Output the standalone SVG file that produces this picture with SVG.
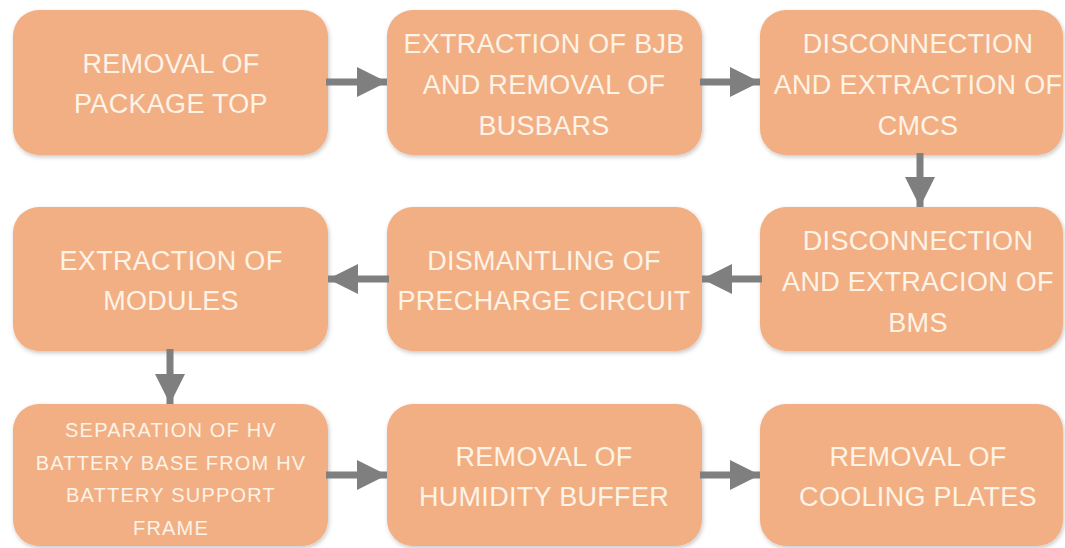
<svg xmlns="http://www.w3.org/2000/svg" width="1065" height="548" viewBox="0 0 1065 548">
  <defs>
    <filter id="soft" x="-5%" y="-5%" width="112%" height="115%">
      <feDropShadow dx="1" dy="2" stdDeviation="2" flood-color="#000" flood-opacity="0.22"/>
    </filter>
    <marker id="head" viewBox="0 0 10 10" refX="10" refY="5" markerWidth="4.3" markerHeight="4.3" markerUnits="strokeWidth" orient="auto">
      <path d="M0,0 L10,5 L0,10 Z" fill="#7f7f7f"/>
    </marker>
  </defs>
  <style>
    .box { fill: #f2af84; filter: url(#soft); }
    .lbl { font-family: "Liberation Sans", Arial, sans-serif; font-size: 27px; fill: #fdf3e6; text-anchor: middle; letter-spacing: 0.3px; }
    .small { font-size: 20px; letter-spacing: 1.2px; }
    .conn { stroke: #7f7f7f; stroke-width: 7; fill: none; marker-end: url(#head); }
  </style>
  <rect width="1065" height="548" fill="#ffffff"/>

  <!-- process steps -->
  <g id="step-removal-package-top">
    <rect class="box" x="13" y="10" width="315" height="145" rx="26"/>
    <text class="lbl" x="171" y="73">REMOVAL OF</text>
    <text class="lbl" x="171" y="113">PACKAGE TOP</text>
  </g>
  <g id="step-extraction-bjb">
    <rect class="box" x="387" y="10" width="315" height="145" rx="26"/>
    <text class="lbl" x="544" y="53">EXTRACTION OF BJB</text>
    <text class="lbl" x="544" y="94">AND REMOVAL OF</text>
    <text class="lbl" x="544" y="135">BUSBARS</text>
  </g>
  <g id="step-cmcs">
    <rect class="box" x="760" y="10" width="303" height="145" rx="26"/>
    <text class="lbl" x="918" y="53">DISCONNECTION</text>
    <text class="lbl" x="918" y="94">AND EXTRACTION OF</text>
    <text class="lbl" x="918" y="135">CMCS</text>
  </g>
  <g id="step-extraction-modules">
    <rect class="box" x="13" y="207" width="315" height="144" rx="26"/>
    <text class="lbl" x="171" y="270">EXTRACTION OF</text>
    <text class="lbl" x="171" y="310">MODULES</text>
  </g>
  <g id="step-precharge">
    <rect class="box" x="387" y="207" width="315" height="144" rx="26"/>
    <text class="lbl" x="544" y="270">DISMANTLING OF</text>
    <text class="lbl" x="544" y="310">PRECHARGE CIRCUIT</text>
  </g>
  <g id="step-bms">
    <rect class="box" x="760" y="207" width="303" height="144" rx="26"/>
    <text class="lbl" x="918" y="250">DISCONNECTION</text>
    <text class="lbl" x="918" y="291">AND EXTRACION OF</text>
    <text class="lbl" x="918" y="332">BMS</text>
  </g>
  <g id="step-separation-base">
    <rect class="box" x="13" y="404" width="315" height="142" rx="26"/>
    <text class="lbl small" x="171" y="437">SEPARATION OF HV</text>
    <text class="lbl small" x="171" y="470">BATTERY BASE FROM HV</text>
    <text class="lbl small" x="171" y="502">BATTERY SUPPORT</text>
    <text class="lbl small" x="171" y="535">FRAME</text>
  </g>
  <g id="step-humidity-buffer">
    <rect class="box" x="387" y="404" width="315" height="142" rx="26"/>
    <text class="lbl" x="544" y="466">REMOVAL OF</text>
    <text class="lbl" x="544" y="506">HUMIDITY BUFFER</text>
  </g>
  <g id="step-cooling-plates">
    <rect class="box" x="760" y="404" width="303" height="142" rx="26"/>
    <text class="lbl" x="918" y="466">REMOVAL OF</text>
    <text class="lbl" x="918" y="506">COOLING PLATES</text>
  </g>

  <!-- flow connectors -->
  <g id="connectors">
    <line class="conn" x1="326" y1="82" x2="387" y2="82"/>
    <line class="conn" x1="700" y1="82" x2="760" y2="82"/>
    <line class="conn" x1="920" y1="153" x2="920" y2="207"/>
    <line class="conn" x1="762" y1="279" x2="702" y2="279"/>
    <line class="conn" x1="389" y1="279" x2="328" y2="279"/>
    <line class="conn" x1="170" y1="349" x2="170" y2="404"/>
    <line class="conn" x1="326" y1="475" x2="387" y2="475"/>
    <line class="conn" x1="700" y1="475" x2="760" y2="475"/>
  </g>
</svg>
